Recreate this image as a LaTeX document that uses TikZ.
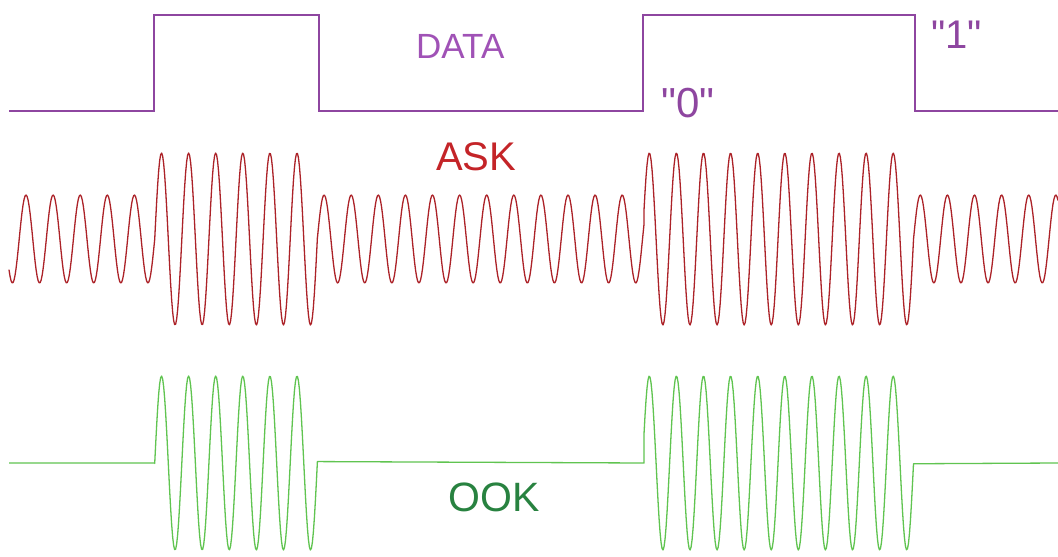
\documentclass[tikz,border=0pt]{standalone}
\usepackage{fontspec}
\setmainfont{Liberation Sans}
\definecolor{datacol}{RGB}{142,70,160}
\definecolor{datatext}{RGB}{160,82,182}
\definecolor{askcol}{RGB}{172,34,40}
\definecolor{asktext}{RGB}{196,36,40}
\definecolor{ookcol}{RGB}{96,196,80}
\definecolor{ooktext}{RGB}{40,130,64}
\tikzset{
  lbl/.style={inner sep=0pt, anchor=base west},
  dataline/.style={draw=datacol, line width=1.6pt, line join=miter},
  askwave/.style={draw=askcol, line width=1.3pt, line join=round},
  ookwave/.style={draw=ookcol, line width=1.3pt, line join=round},
}
\begin{document}
\begin{tikzpicture}[x=1pt,y=-1pt]
\useasboundingbox (0,0) rectangle (1058,557);
\fill[white] (0,0) rectangle (1058,557);
% DATA
\draw[dataline] (9,111) -- (154,111) -- (154,15) -- (319,15) -- (319,111) -- (643,111) -- (643,15) -- (915,15) -- (915,111) -- (1058,111);
\node[lbl, text=datatext, font=\fontsize{35}{35}\selectfont] (data) at (416,58) {DATA};
\node[lbl, text=datacol, font=\fontsize{42}{42}\selectfont] (zero) at (661,117) {\textquotedbl0\textquotedbl};
\node[lbl, text=datacol, font=\fontsize{40}{40}\selectfont] (one) at (931,48) {\textquotedbl1\textquotedbl};
% ASK
\draw[askwave]
  plot[domain=9:154.7, samples=146] (\x, {239-44*cos(13.284*(\x-26))})
  -- plot[domain=154.7:317.4, samples=164] (\x, {239-86*cos(13.284*(\x-26))})
  -- plot[domain=317.4:644, samples=327] (\x, {239-44*cos(13.284*(\x-26))})
  -- plot[domain=644:913.5, samples=270] (\x, {239-86*cos(13.284*(\x-26))})
  -- plot[domain=913.5:1058, samples=145] (\x, {239-44*cos(13.284*(\x-26))});
\node[lbl, text=asktext, font=\fontsize{40}{40}\selectfont] (ask) at (436,170) {ASK};
% OOK
\draw[ookwave] (9,463) -- (154.7,463)
  -- plot[domain=154.7:317.4, samples=164] (\x, {463-87*cos(13.284*(\x-26))})
  -- (644,463)
  -- plot[domain=644:913.5, samples=270] (\x, {463-87*cos(13.284*(\x-26))})
  -- (1058,463);
\node[lbl, text=ooktext, font=\fontsize{41}{41}\selectfont] (ook) at (448,511) {OOK};
\end{tikzpicture}
\end{document}
